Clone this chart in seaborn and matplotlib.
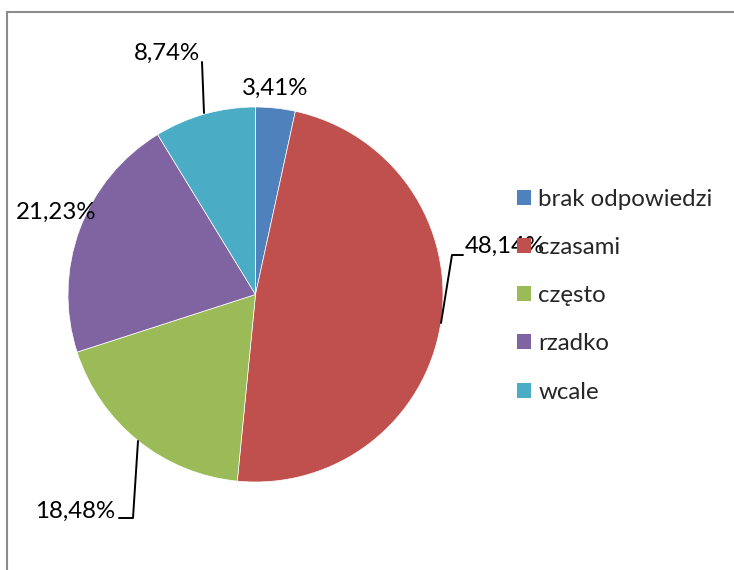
import matplotlib
matplotlib.use("Agg")
import matplotlib.pyplot as plt
import seaborn as sns
from matplotlib.lines import Line2D

sns.set_theme(style="white")
plt.rcParams['font.family'] = ['Lato', 'DejaVu Sans']

categories = ["brak odpowiedzi", "czasami", "często", "rzadko", "wcale"]
values = [3.41, 48.14, 18.48, 21.23, 8.74]
value_labels = ["3,41%", "48,14%", "18,48%", "21,23%", "8,74%"]
colors = ["#4F81BD", "#C0504D", "#9BBB59", "#8064A2", "#4BACC6"]

W, H = 734, 570
fig = plt.figure(figsize=(W / 100, H / 100), dpi=100)
fig.patch.set_facecolor("white")

cx, cy, R = 255.5, 294.5, 187.5
ax = fig.add_axes([(cx - R) / W, (H - cy - R) / H, 2 * R / W, 2 * R / H])
wedges, _ = ax.pie(values, colors=colors, startangle=90, counterclock=False,
                   radius=1.0, wedgeprops=dict(linewidth=0.5, edgecolor="white"))
ax.set_xlim(-1, 1)
ax.set_ylim(-1, 1)
ax.set_aspect("auto")
ax.axis("off")


def d(px, py):
    return ((px - cx) / R, (cy - py) / R)


FS = 17.3
label_pos = [(275, 88), (505, 246), (75, 511), (56, 212), (167, 53)]
for (px, py), lab in zip(label_pos, value_labels):
    x, y = d(px, py)
    ax.text(x, y, lab, ha="center", va="center", fontsize=FS, color="black",
            clip_on=False, zorder=3)

leaders = [
    [(202, 62), (204, 113)],
    [(463, 255), (452, 255), (441, 323)],
    [(119, 518), (133, 518), (138, 441)],
]
for pts in leaders:
    xs, ys = zip(*[d(*p) for p in pts])
    ax.plot(xs, ys, color="black", lw=1.4, clip_on=False, zorder=4)

handles = [plt.Rectangle((0, 0), 1, 1, facecolor=c, edgecolor="none") for c in colors]
fig.legend(handles, categories, loc="upper left",
           bbox_to_anchor=(517 / W, 1 - 189 / H), frameon=False,
           fontsize=FS, handlelength=0.58, handleheight=0.58,
           handletextpad=0.3, labelspacing=1.13, borderpad=0,
           borderaxespad=0)

# chart border (left and top visible)
fig.add_artist(Line2D([7 / W, 7 / W], [0, 1 - 12 / H], color="#8c8c8c", lw=1.5,
                      transform=fig.transFigure))
fig.add_artist(Line2D([7 / W, 1], [1 - 12 / H, 1 - 12 / H], color="#8c8c8c", lw=1.5,
                      transform=fig.transFigure))

fig.savefig("out.png", dpi=100, facecolor="white")
